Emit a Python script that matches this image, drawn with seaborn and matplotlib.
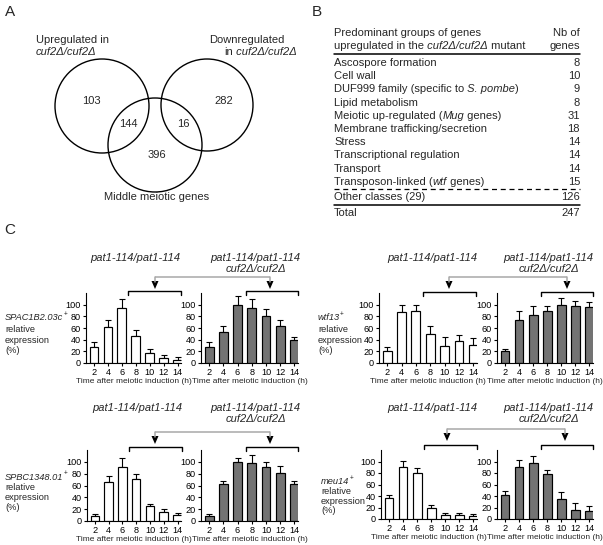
import numpy as np
import pandas as pd
import matplotlib
matplotlib.use("Agg")
import matplotlib.pyplot as plt
from matplotlib.patches import Circle, Polygon
import seaborn as sns

sns.set_theme(style="white")
plt.rcParams['font.family'] = ['Liberation Sans', 'DejaVu Sans']

# ---------------- data ----------------
venn_labels = ["103", "282", "144", "16", "396"]

# each category: list of (text, italic?) parts
table_categories = [
    [("Ascospore formation", False)],
    [("Cell wall", False)],
    [("DUF999 family (specific to", False), (" S. pombe", True), (")", False)],
    [("Lipid metabolism", False)],
    [("Meiotic up-regulated (", False), ("Mug", True), (" genes)", False)],
    [("Membrane trafficking/secretion", False)],
    [("Stress", False)],
    [("Transcriptional regulation", False)],
    [("Transport", False)],
    [("Transposon-linked (", False), ("wtf", True), (" genes)", False)],
]
table_counts = [8, 10, 9, 8, 31, 18, 14, 14, 14, 15]
other_label = "Other classes (29)"
other_count = 126
total_count = 247

times = ["2", "4", "6", "8", "10", "12", "14"]

spac_wt = [28, 61, 95, 47, 18, 9, 6]
spac_wt_err = [8, 12, 15, 9, 6, 4, 4]
spac_mut = [28, 54, 100, 95, 81, 64, 40]
spac_mut_err = [8, 10, 15, 15, 12, 10, 5]

wtf_wt = [20, 87, 90, 49, 30, 38, 31]
wtf_wt_err = [7, 12, 9, 14, 14, 10, 12]
wtf_mut = [21, 74, 83, 89, 100, 97, 96]
wtf_mut_err = [3, 15, 14, 9, 12, 10, 8]

spbc_wt = [9, 66, 91, 71, 25, 15, 10]
spbc_wt_err = [3, 10, 16, 8, 4, 6, 3]
spbc_mut = [9, 63, 100, 98, 91, 81, 63]
spbc_mut_err = [3, 5, 6, 13, 9, 12, 5]

meu_wt = [37, 90, 80, 20, 7, 7, 6]
meu_wt_err = [4, 11, 8, 5, 3, 4, 3]
meu_mut = [42, 90, 98, 78, 34, 16, 14]
meu_mut_err = [6, 13, 12, 7, 13, 11, 8]

# ---------------- figure ----------------
W, H = 603, 545
fig = plt.figure(figsize=(W / 100, H / 100), dpi=100)
ov = fig.add_axes([0, 0, 1, 1])
ov.set_xlim(0, W)
ov.set_ylim(H, 0)
ov.axis("off")

FS = 8.0
TICK_FS = 6.6
XL_FS = 6.0
GENE_FS = 6.7
NARROW = ['Liberation Sans Narrow', 'Liberation Sans', 'DejaVu Sans']


def rich(x, y, parts, fs):
    """Left-aligned text made of normal/italic parts chained together."""
    prev = None
    for txt, it in parts:
        style = "italic" if it else "normal"
        if prev is None:
            prev = ov.text(x, y, txt, fontsize=fs, style=style, ha="left", va="center")
        else:
            prev = ov.annotate(txt, xy=(1, 0), xycoords=prev, fontsize=fs, style=style,
                               ha="left", va="bottom")
    return prev


def sup_plus(prev, fs):
    ov.annotate("+", xy=(1.0, 0.45), xycoords=prev, fontsize=fs * 0.7,
                ha="left", va="bottom")


# panel letters
ov.text(5, 12, "A", fontsize=11, va="center", ha="left")
ov.text(312, 12, "B", fontsize=11, va="center", ha="left")
ov.text(4, 230, "C", fontsize=11, va="center", ha="left")

# ---------------- Venn ----------------
for (cx, cy, r) in [(102, 106, 47), (207, 105, 46), (155, 145, 47)]:
    ov.add_patch(Circle((cx, cy), r, fill=False, lw=1.0, ec="black"))
ov.text(36, 40, "Upregulated in", fontsize=FS, ha="left", va="center")
ov.text(36, 52, "cuf2Δ/cuf2Δ", fontsize=FS, style="italic", ha="left", va="center")
ov.text(285, 40, "Downregulated", fontsize=FS, ha="right", va="center")
rich(224, 52, [("in", False), (" cuf2Δ/cuf2Δ", True)], FS)
venn_pos = [(91, 101), (224, 101), (128, 124), (183, 124), (157, 155)]
for lab, (x, y) in zip(venn_labels, venn_pos):
    ov.text(x, y, lab, fontsize=FS, ha="center", va="center")
ov.text(157, 197, "Middle meiotic genes", fontsize=FS, ha="center", va="center")

# ---------------- Table ----------------
tx0, tx1 = 334, 580
ov.text(tx0, 33, "Predominant groups of genes", fontsize=FS, ha="left", va="center")
rich(tx0, 46, [("upregulated in the", False), (" cuf2Δ/cuf2Δ", True), (" mutant", False)], FS)
ov.text(tx1, 33, "Nb of", fontsize=FS, ha="right", va="center")
ov.text(tx1, 46, "genes", fontsize=FS, ha="right", va="center")
ov.plot([tx0, tx1], [53.5, 53.5], color="black", lw=1.1)
row_y0, row_dy = 63, 13.2
for i, (cat, n) in enumerate(zip(table_categories, table_counts)):
    y = row_y0 + i * row_dy
    rich(tx0, y, cat, FS)
    ov.text(tx1, y, str(n), fontsize=FS, ha="right", va="center")
ov.plot([tx0, tx1], [189, 189], color="black", lw=0.9, ls=(0, (4, 3)))
ov.text(tx0, 197, other_label, fontsize=FS, ha="left", va="center")
ov.text(tx1, 197, str(other_count), fontsize=FS, ha="right", va="center")
ov.plot([tx0, tx1], [204.5, 204.5], color="black", lw=1.1)
ov.text(tx0, 213, "Total", fontsize=FS, ha="left", va="center")
ov.text(tx1, 213, str(total_count), fontsize=FS, ha="right", va="center")


# ---------------- bar panels ----------------
def px_axes(left, right, top, bottom):
    return fig.add_axes([left / W, 1 - bottom / H, (right - left) / W, (bottom - top) / H])


def bar_panel(ax, vals, errs, color):
    df = pd.DataFrame({"time": times, "val": vals})
    sns.barplot(data=df, x="time", y="val", ax=ax, color=color, edgecolor="black",
                linewidth=0.85, width=0.62, errorbar=None, saturation=1)
    xs = np.arange(len(vals))
    ax.errorbar(xs, vals, yerr=[np.zeros(len(vals)), errs], fmt="none", ecolor="black",
                elinewidth=0.8, capsize=2.3, capthick=0.8, zorder=0.5)
    ax.set_xlim(-0.57, 6.25)
    ax.set_ylim(0, 120)
    ax.set_yticks([0, 20, 40, 60, 80, 100])
    ax.set_xlabel("Time after meiotic induction (h)", fontsize=XL_FS, labelpad=1)
    ax.set_ylabel("")
    for s in ["top", "right"]:
        ax.spines[s].set_visible(False)
    for s in ["left", "bottom"]:
        ax.spines[s].set_linewidth(0.8)
        ax.spines[s].set_color("black")
    ax.tick_params(axis="both", labelsize=TICK_FS, length=2.5, width=0.8, pad=1,
                   direction="out", left=True, bottom=True, colors="black")
    ax.patch.set_alpha(0)


def group(xL, xR, top, bottom, wt, wt_e, mut, mut_e, gene, gene_xy, line_off, title_y,
          titleL_x, titleR_x, conn_y, conn_x, tip_y, br_y, brL, brR):
    a1 = px_axes(xL[0], xL[1], top, bottom)
    bar_panel(a1, wt, wt_e, "white")
    a2 = px_axes(xR[0], xR[1], top, bottom)
    bar_panel(a2, mut, mut_e, "#737373")
    # titles
    ov.text(titleL_x, title_y, "pat1-114/pat1-114", fontsize=FS, style="italic",
            ha="center", va="center")
    ov.text(titleR_x, title_y, "pat1-114/pat1-114", fontsize=FS, style="italic",
            ha="center", va="center")
    ov.text(titleR_x + 1, title_y + 11, "cuf2Δ/cuf2Δ", fontsize=FS, style="italic",
            ha="center", va="center")
    # gene label
    gx, gy = gene_xy
    t = ov.text(gx, gy, gene, fontsize=GENE_FS, style="italic", family=NARROW,
                ha="left", va="center")
    sup_plus(t, GENE_FS)
    for off, s in zip(line_off, ["relative", "expression", "(%)"]):
        ov.text(gx, gy + off, s, fontsize=GENE_FS, ha="left", va="center")
    # connector
    ov.plot([conn_x[0], conn_x[1]], [conn_y, conn_y], color="#a8a8a8", lw=1.1,
            solid_capstyle="butt")
    for cx in conn_x:
        ov.plot([cx, cx], [conn_y, tip_y - 7], color="#a8a8a8", lw=1.1)
        ov.add_patch(Polygon([[cx - 3.5, tip_y - 8], [cx + 3.5, tip_y - 8], [cx, tip_y]],
                             closed=True, color="black", lw=0))
    # brackets
    for (b0, b1) in (brL, brR):
        ov.plot([b0, b0, b1, b1], [br_y + 4, br_y, br_y, br_y + 4], color="black", lw=1.0)


top_off = (12, 22.5, 32.5)
bot_off = (11, 21, 31)
group((86, 181), (201, 298), 293, 363, spac_wt, spac_wt_err, spac_mut, spac_mut_err,
      "SPAC1B2.03c", (5, 318), top_off, 258, 135, 255, 277, (155, 270), 289,
      291, (128, 181), (246, 298))
group((379, 477), (497, 593), 293, 363, wtf_wt, wtf_wt_err, wtf_mut, wtf_mut_err,
      "wtf13", (318, 318), top_off, 258, 432, 548, 277, (449, 567), 289,
      292, (423, 476), (541, 593))
group((87, 181), (201, 298), 450, 521, spbc_wt, spbc_wt_err, spbc_mut, spbc_mut_err,
      "SPBC1348.01", (5, 477), bot_off, 408, 137, 255, 432, (155, 270), 444,
      447, (129, 182), (246, 298))
group((381, 477), (497, 593), 450, 519, meu_wt, meu_wt_err, meu_mut, meu_mut_err,
      "meu14", (321, 482), (10, 19.5, 28.5), 408, 432, 548, 429, (447, 565), 441,
      445, (424, 477), (541, 593))

fig.savefig("out.png", dpi=100)
